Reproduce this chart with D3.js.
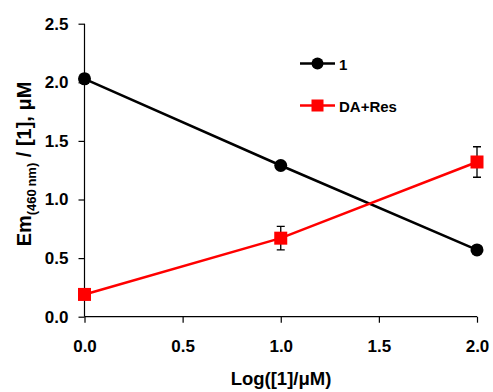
<!DOCTYPE html>
<html><head><meta charset="utf-8">
<script src="https://cdn.jsdelivr.net/npm/d3@7"></script>
<style>body{margin:0;background:#fff}svg{display:block}text{font-family:Arial,"Liberation Sans",sans-serif;font-weight:bold}</style>
</head><body>
<svg id="c" width="493" height="392"></svg>
<script>
const xValues = [0, 1, 2];
const series1 = [2.03, 1.29, 0.57];
const series1Err = [0.04, 0.03, 0.02];
const seriesDA = [0.19, 0.67, 1.32];
const seriesDAErr = [0.0, 0.10, 0.13];
const xTicks = [0, 0.5, 1, 1.5, 2];
const yTicks = [0, 0.5, 1, 1.5, 2, 2.5];
const legendLabels = ["1", "DA+Res"];

const svg = d3.select("#c");
const x = d3.scaleLinear().domain([0, 2]).range([84.5, 477]);
const y = d3.scaleLinear().domain([0, 2.5]).range([316.7, 23.7]);

const xAxis = d3.axisBottom(x).tickValues(xTicks).tickFormat(d3.format(".1f")).tickSize(6).tickPadding(17);
const gx = svg.append("g").attr("transform", `translate(0,${y(0)})`).call(xAxis);
gx.select(".domain").attr("stroke", "#000").attr("stroke-width", 1.2).attr("d", `M${x(0)},0H${x(2)}`);
gx.selectAll(".tick line").attr("stroke-width", 1.2);
gx.selectAll("text").attr("font-size", 17).attr("fill", "#000");

const yAxis = d3.axisLeft(y).tickValues(yTicks).tickFormat(d3.format(".1f")).tickSize(6).tickPadding(10);
const gy = svg.append("g").attr("transform", `translate(${x(0)},0)`).call(yAxis);
gy.select(".domain").attr("stroke", "#000").attr("stroke-width", 1.2).attr("d", `M0,${y(2.5)}V${y(0)}`);
gy.selectAll(".tick line").attr("stroke-width", 1.2);
gy.selectAll("text").attr("font-size", 17).attr("fill", "#000");

// axis labels
svg.append("text").attr("x", 281).attr("y", 385).attr("text-anchor", "middle").attr("font-size", 18.5).text("Log([1]/\u03BCM)");
const yl = svg.append("text").attr("transform", "translate(31,164) rotate(-90)").attr("text-anchor", "middle").attr("font-size", 20);
yl.append("tspan").text("Em");
yl.append("tspan").attr("font-size", 13).attr("dy", 5).text("(460\u2009nm)");
yl.append("tspan").attr("dy", -5).text(" / [1], \u03BCM");

const line = d3.line().x((d, i) => x(xValues[i])).y(d => y(d));

function drawSeries(vals, errs, color, shape) {
  const g = svg.append("g");
  g.append("path").datum(vals).attr("d", line).attr("fill", "none").attr("stroke", color).attr("stroke-width", 2.5);
  vals.forEach((v, i) => {
    const e = errs[i];
    if (e > 0) {
      const cx = x(xValues[i]);
      g.append("path").attr("d", `M${cx},${y(v - e)}V${y(v + e)}M${cx - 4},${y(v + e)}H${cx + 4}M${cx - 4},${y(v - e)}H${cx + 4}`)
        .attr("stroke", "#000").attr("stroke-width", 1.3).attr("fill", "none");
    }
  });
  vals.forEach((v, i) => {
    const cx = x(xValues[i]), cy = y(v);
    if (shape === "circle") g.append("circle").attr("cx", cx).attr("cy", cy).attr("r", 6.5).attr("fill", color);
    else g.append("rect").attr("x", cx - 6.5).attr("y", cy - 6.5).attr("width", 13).attr("height", 13).attr("fill", color);
  });
}
drawSeries(series1, series1Err, "#000", "circle");
drawSeries(seriesDA, seriesDAErr, "#ff0000", "square");

// legend
const leg = [{c: "#000", s: "circle", y: 63.5}, {c: "#ff0000", s: "square", y: 105.5}];
leg.forEach((l, i) => {
  svg.append("line").attr("x1", 300).attr("x2", 335).attr("y1", l.y).attr("y2", l.y).attr("stroke", l.c).attr("stroke-width", 2.5);
  if (l.s === "circle") svg.append("circle").attr("cx", 317.5).attr("cy", l.y).attr("r", 6).attr("fill", l.c);
  else svg.append("rect").attr("x", 311.5).attr("y", l.y - 6).attr("width", 12).attr("height", 12).attr("fill", l.c);
  svg.append("text").attr("x", 339).attr("y", l.y + 6).attr("font-size", 15).text(legendLabels[i]);
});
</script>
</body></html>
